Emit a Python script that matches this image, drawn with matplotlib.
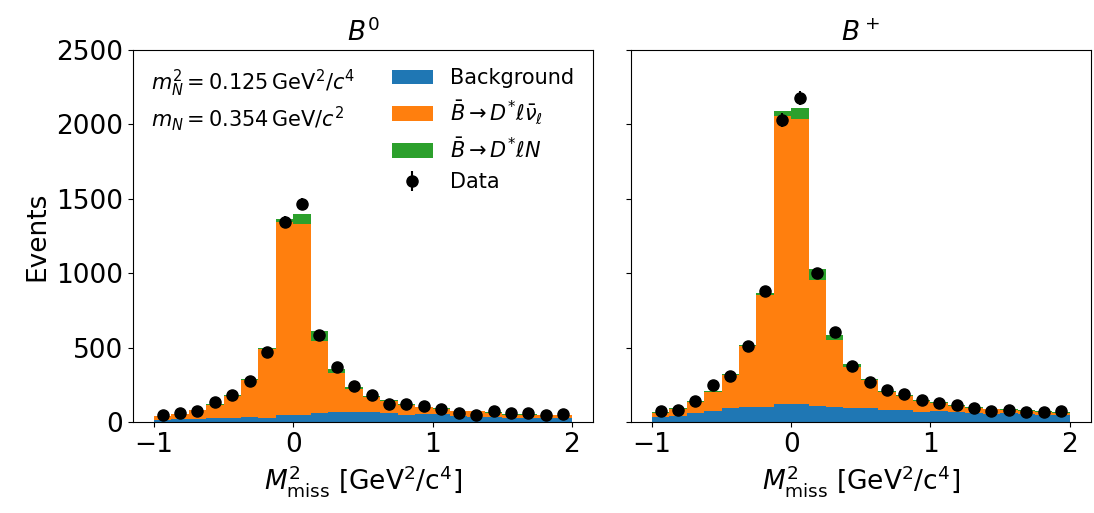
import numpy as np
import matplotlib.pyplot as plt

# Binning in missing mass squared
edges = np.linspace(-1, 2, 25)
centers = 0.5 * (edges[1:] + edges[:-1])

# B0 channel
bkg_b0 = [15, 20, 22, 29, 29, 36, 29, 45, 49, 62, 71, 71, 71, 65, 49, 56, 56, 42, 38, 36, 29, 29, 29, 29]
sm_b0 = [24, 33, 57, 88, 150, 249, 460, 1299, 1279, 484, 261, 154, 99, 80, 68, 43, 35, 33, 37, 28, 21, 21, 17, 17]
sig_b0 = [3, 3, 3, 3, 4, 5, 6, 22, 67, 64, 24, 11, 6, 4, 3, 3, 3, 3, 3, 3, 3, 3, 3, 3]
data_b0 = [45, 65, 76, 138, 183, 274, 468, 1344, 1466, 586, 370, 245, 183, 120, 123, 111, 89, 60, 49, 76, 60, 62, 47, 53]

# B+ channel
bkg_bp = [36, 42, 63, 74, 96, 103, 103, 123, 123, 107, 103, 98, 94, 83, 81, 69, 74, 69, 63, 56, 63, 56, 49, 49]
sm_bp = [28, 49, 74, 128, 221, 406, 752, 1933, 1913, 848, 450, 275, 187, 120, 96, 76, 57, 42, 35, 30, 21, 22, 22, 15]
sig_bp = [3, 3, 4, 4, 5, 6, 15, 31, 71, 72, 31, 16, 8, 5, 4, 3, 3, 3, 3, 3, 3, 3, 3, 3]
data_bp = [76, 85, 143, 248, 309, 510, 879, 2027, 2174, 1002, 606, 376, 271, 217, 192, 150, 128, 116, 98, 76, 85, 69, 67, 78]

labels = ['Background', r'$\bar{B} \rightarrow D^{*}\ell\bar{\nu}_\ell$', r'$\bar{B} \rightarrow D^{*}\ell N$']
colors = ['C0', 'C1', 'C2']

plt.rcParams.update({'font.size': 19})

fig, axes = plt.subplots(1, 2, figsize=(10.94, 5.13), dpi=100, sharey=True)
fig.subplots_adjust(left=0.1216, right=0.997, bottom=0.177, top=0.9035, wspace=0.083)

channels = [(r'$B^0$', bkg_b0, sm_b0, sig_b0, data_b0),
            (r'$B^+$', bkg_bp, sm_bp, sig_bp, data_bp)]

for ax, (title, bkg, sm, sig, data) in zip(axes, channels):
    ax.hist([centers] * 3, bins=edges, weights=[bkg, sm, sig], stacked=True,
            histtype='stepfilled', color=colors, label=labels)
    ax.errorbar(centers, data, yerr=np.sqrt(data), fmt='o', color='k',
                markersize=8, label='Data')
    ax.set_title(title, fontsize=19)
    ax.set_xlabel(r'$M^2_\mathrm{miss}$ [GeV$^2$/c$^4$]')
    ax.set_xticks([-1, 0, 1, 2])

axes[0].set_ylim(0, 2500)
axes[0].set_yticks(np.arange(0, 2501, 500))
axes[0].set_ylabel('Events')
axes[0].text(0.04, 0.95, '$m_N^2 = 0.125\\,\\mathrm{GeV}^2/c^4$\n$m_N = 0.354\\,\\mathrm{GeV}/c^2$',
             transform=axes[0].transAxes, va='top', ha='left', fontsize=15)

# stacked hist lists its layers top-down, put them back in stacking order
handles, names = axes[0].get_legend_handles_labels()
order = [names.index(n) for n in labels + ['Data']]
axes[0].legend([handles[i] for i in order], [names[i] for i in order],
               loc='upper right', frameon=False, fontsize=15)

fig.savefig('out.png', dpi=100)
